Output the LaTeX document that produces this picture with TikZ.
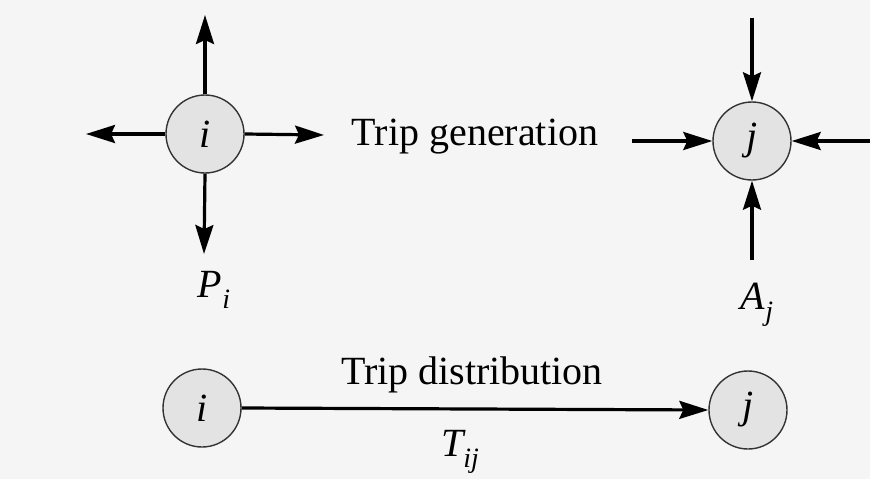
\documentclass[tikz,border=0pt]{standalone}
\usepackage{fontspec}
\setmainfont{Liberation Serif}
\usetikzlibrary{arrows.meta}
\begin{document}
\begin{tikzpicture}[x=1pt,y=-1pt,
  zone/.style={circle,draw=black!80,line width=1.4pt,fill=black!11,minimum size=78pt,inner sep=0pt,
    font=\fontsize{40}{44}\selectfont\itshape},
  arr/.style={line width=3.2pt,-{Stealth[length=29pt,width=18pt,inset=4pt]}},
  lbl/.style={inner sep=0pt,font=\fontsize{40}{48}\selectfont}]
\fill[black!4] (0,0) rectangle (870,479);
\useasboundingbox (0,0) rectangle (870,479);
% top row
\node[zone] (i1) at (205,134) {i};
\node[zone] (j1) at (752,141) {j};
\coordinate (iu) at (205,15);
\coordinate (il) at (86,134);
\coordinate (ir) at (324,135);
\coordinate (id) at (204,254);
\draw[arr] (i1.north) -- (iu);
\draw[arr] (i1.west) -- (il);
\draw[arr] (i1.east) -- (ir);
\draw[arr] (i1.south) -- (id);
\coordinate (ju) at (752,18);
\coordinate (jl) at (632,141);
\coordinate (jr) at (872,141);
\coordinate (jd) at (752,260);
\draw[arr] (ju) -- (j1.north);
\draw[arr] (jl) -- (j1.west);
\draw[arr] (jr) -- (j1.east);
\draw[arr] (jd) -- (j1.south);
\node[lbl] (gen) at (475,137) {Trip generation};
\node[lbl] (P) at (214,290) {\itshape P\raisebox{-0.28em}{\fontsize{28}{30}\selectfont i}};
\node[lbl] (A) at (757,305) {\itshape A\raisebox{-0.28em}{\fontsize{28}{30}\selectfont j}};
% bottom row
\node[zone] (i2) at (202,408) {i};
\node[zone] (j2) at (748,410) {j};
\draw[arr] (i2.east) -- (j2.west);
\node[lbl] (dist) at (472,375) {Trip distribution};
\node[lbl] (T) at (460,452) {\itshape T\raisebox{-0.28em}{\fontsize{28}{30}\selectfont ij}};
\end{tikzpicture}
\end{document}
